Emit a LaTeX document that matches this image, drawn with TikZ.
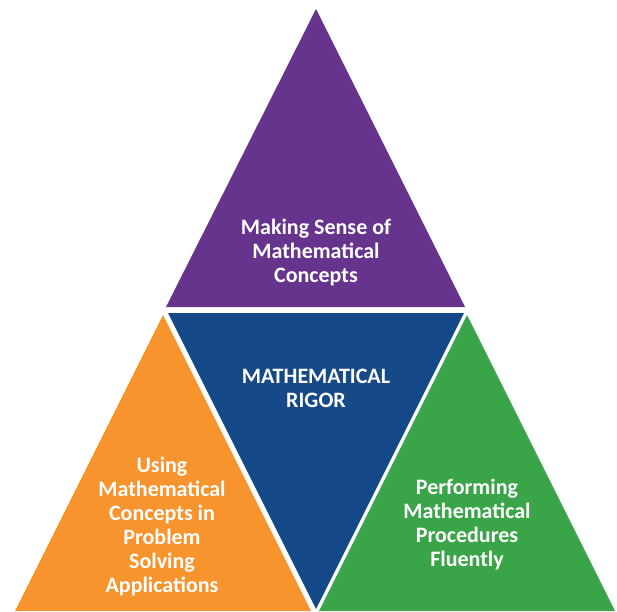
\documentclass[tikz,border=0pt]{standalone}
\usepackage{fontspec}
\setmainfont{Carlito}
\usepackage{xcolor}
\usepackage{tikz}
\usetikzlibrary{positioning}

\definecolor{sensepurple}{RGB}{102,51,141}
\definecolor{rigorblue}{RGB}{22,73,135}
\definecolor{applyorange}{RGB}{247,148,45}
\definecolor{fluentgreen}{RGB}{58,165,72}

\begin{document}
\begin{tikzpicture}[x=1pt,y=1pt,
every node/.style = {text=white,
	font=\fontsize{22}{24}\selectfont\bfseries,
	align=center
	}
]
\useasboundingbox (0,0) rectangle (617,611);
% corners of the four triangles
\coordinate (Ptop) at (316,602);
\coordinate (Pleft) at (166,304);
\coordinate (Pright) at (465,304);
\coordinate (Bleft) at (168,298);
\coordinate (Bright) at (464,298);
\coordinate (Bbot) at (316,2);
\coordinate (Otop) at (163,296);
\coordinate (Oleft) at (15,0);
\coordinate (Oright) at (311,0);
\coordinate (Gtop) at (467,296);
\coordinate (Gleft) at (319,0);
\coordinate (Gright) at (615,0);
\fill[sensepurple] (Ptop) -- (Pleft) -- (Pright) -- cycle;
\fill[rigorblue] (Bleft) -- (Bright) -- (Bbot) -- cycle;
\fill[applyorange] (Otop) -- (Oleft) -- (Oright) -- cycle;
\fill[fluentgreen] (Gtop) -- (Gleft) -- (Gright) -- cycle;

\node (MSC) at (316,358) {Making Sense of\\Mathematical\\Concepts};
\node (MR) at (316,223) {MATHEMATICAL\\RIGOR};
\node (UMC) at (162,84) {Using\\Mathematical\\Concepts in\\Problem\\Solving\\Applications};
\node (PMP) at (467,86) {Performing\\Mathematical\\Procedures\\Fluently};
\end{tikzpicture}
\end{document}
